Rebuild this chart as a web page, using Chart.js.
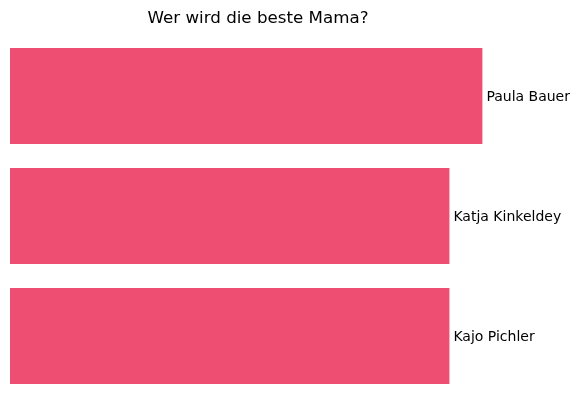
<!DOCTYPE html>
<html>
<head>
<meta charset="utf-8">
<script src="https://cdn.jsdelivr.net/npm/chart.js@4"></script>
<style>
    body { margin: 0; background: #fff; }
    #wrap { width: 579px; height: 411px; }
</style>
</head>
<body>
<div id="wrap"><canvas id="myChart"></canvas></div>
<script>
// DATA
const names = ['Paula Bauer', 'Katja Kinkeldey', 'Kajo Pichler'];
const votes = [43, 40, 40];
const title = 'Wer wird die beste Mama?';

// labels right next to the end of each bar
const endLabels = {
    id: 'endLabels',
    afterDatasetsDraw(chart) {
        const ctx = chart.ctx;
        const meta = chart.getDatasetMeta(0);
        ctx.save();
        ctx.font = '14px "DejaVu Sans"';
        ctx.fillStyle = '#000';
        ctx.textBaseline = 'middle';
        meta.data.forEach((bar, i) => {
            ctx.fillText(names[i], bar.x + 4, bar.y + 1);
        });
        ctx.restore();
    }
};

const ctx = document.getElementById('myChart').getContext('2d');
new Chart(ctx, {
    type: 'bar',
    data: {
        labels: names,
        datasets: [{
            data: votes,
            backgroundColor: '#EE4E72',
            barPercentage: 0.8,
            categoryPercentage: 1
        }]
    },
    options: {
        indexAxis: 'y',
        responsive: true,
        maintainAspectRatio: false,
        animation: false,
        layout: { padding: { left: 10, right: 73, top: 0, bottom: 15 } },
        scales: {
            x: { display: false, min: 0, max: Math.max(...votes) * 1.05 },
            y: { display: false }
        },
        plugins: {
            legend: { display: false },
            tooltip: { enabled: false },
            title: {
                display: true,
                text: title,
                fullSize: false,
                color: '#000',
                font: { family: '"DejaVu Sans"', size: 16.7, weight: 'normal' },
                padding: { top: 9, bottom: 6.9 }
            }
        }
    },
    plugins: [endLabels]
});
</script>
</body>
</html>
